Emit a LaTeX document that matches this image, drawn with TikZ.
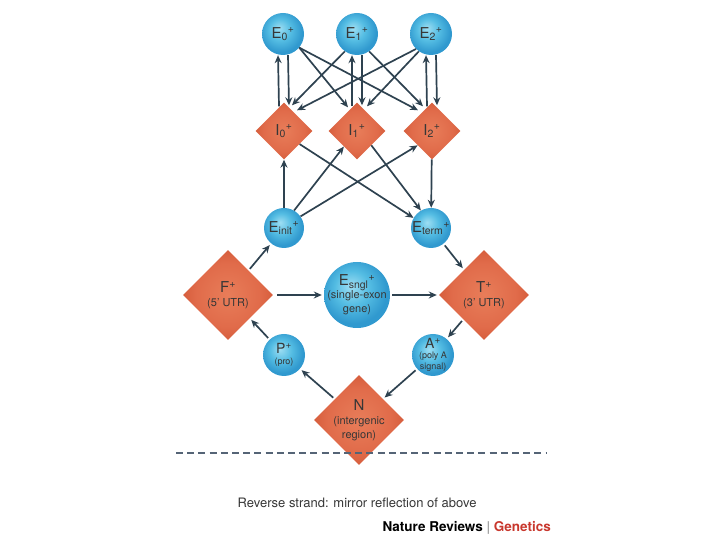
\documentclass[tikz,border=0pt]{standalone}
\usepackage{fontspec}
\setmainfont{TeX Gyre Heros}
\usetikzlibrary{shapes.geometric,arrows.meta}
\definecolor{edgegrey}{RGB}{46,66,80}
\definecolor{labelgrey}{RGB}{55,55,55}
\definecolor{natred}{RGB}{200,55,45}
\definecolor{dashgrey}{RGB}{85,100,118}
\pgfdeclareradialshading{bead}{\pgfpoint{-5bp}{7bp}}{rgb(0bp)=(0.62,0.87,0.95);rgb(13bp)=(0.33,0.74,0.89);rgb(25bp)=(0.19,0.60,0.81);rgb(50bp)=(0.19,0.60,0.81)}
\pgfdeclareradialshading{tile}{\pgfpoint{0bp}{0bp}}{rgb(0bp)=(0.91,0.49,0.35);rgb(18bp)=(0.88,0.42,0.29);rgb(25bp)=(0.84,0.37,0.24);rgb(50bp)=(0.84,0.37,0.24)}
\tikzset{
  exon/.style={circle,shading=bead,minimum size=42pt,inner sep=-3pt,text=labelgrey,align=center,font=\fontsize{15}{15}\selectfont},
  intron/.style={diamond,aspect=1,shading=tile,minimum size=57pt,inner sep=-4pt,text=labelgrey,align=center,font=\fontsize{15}{15}\selectfont},
  region/.style={intron,minimum size=90pt},
  arr/.style={-{Stealth[length=8pt,width=7pt]},line width=1.7pt,edgegrey},
  link/.style={arr,shorten >=2pt,shorten <=2pt}
}
\newcommand{\paren}[1]{{\fontsize{11}{12}\selectfont #1}}
\newcommand{\minor}[1]{{\fontsize{9}{9.5}\selectfont #1}}
\begin{document}
\begin{tikzpicture}[x=1pt,y=1pt]
  \useasboundingbox (0,0) rectangle (720,540);
  \node (E0) at (283,506) [exon] {E\textsubscript{0}\textsuperscript{+}};
  \node (E1) at (357,506) [exon] {E\textsubscript{1}\textsuperscript{+}};
  \node (E2) at (431,506) [exon] {E\textsubscript{2}\textsuperscript{+}};
  \node (I0) at (284,409) [intron] {I\textsubscript{0}\textsuperscript{+}};
  \node (I1) at (357,409) [intron] {I\textsubscript{1}\textsuperscript{+}};
  \node (I2) at (432,409) [intron] {I\textsubscript{2}\textsuperscript{+}};
  \node (Einit) at (284,312) [exon,minimum size=40pt] {E\textsubscript{init}\textsuperscript{+}};
  \node (Eterm) at (431,312) [exon,minimum size=40pt] {E\textsubscript{term}\textsuperscript{+}};
  \node (F) at (228,245) [region] {F\textsuperscript{+}\\[-1pt]\paren{(5’ UTR)}};
  \node (Esngl) at (357,245) [exon,minimum size=66pt,inner sep=-10pt] {E\textsubscript{sngl}\textsuperscript{+}\\[-2pt]\paren{(single-exon}\\[-1pt]\paren{gene)}};
  \node (T) at (484,245) [region] {T\textsuperscript{+}\\[-1pt]\paren{(3’ UTR)}};
  \node (P) at (284,185) [exon,font=\fontsize{14}{14}\selectfont] {P\textsuperscript{+}\\[-3pt]\minor{(pro)}};
  \node (A) at (433,185) [exon,inner sep=-6pt,font=\fontsize{14}{14}\selectfont] {A\textsuperscript{+}\\[-4pt]\minor{(poly A}\\[-3pt]\minor{signal)}};
  \node (N) at (359,120) [region,inner sep=-8pt] {N\\[-1pt]\paren{(intergenic}\\[-1pt]\paren{region)}};
  \draw[arr] ([xshift=-5pt,yshift=-4pt]I0.north) -- ([xshift=-5pt]E0.south);
  \draw[arr] ([xshift=5pt]E0.south) -- ([xshift=5pt,yshift=-3pt]I0.north);
  \draw[arr] ([xshift=-5pt,yshift=-4pt]I1.north) -- ([xshift=-5pt]E1.south);
  \draw[arr] ([xshift=5pt]E1.south) -- ([xshift=5pt,yshift=-3pt]I1.north);
  \draw[arr] ([xshift=-5pt,yshift=-4pt]I2.north) -- ([xshift=-5pt]E2.south);
  \draw[arr] ([xshift=5pt]E2.south) -- ([xshift=5pt,yshift=-3pt]I2.north);
  \draw[arr] (E0.-40) -- ([xshift=-9pt,yshift=-5pt]I1.north);
  \draw[arr] (E0.-40) -- ([xshift=-14pt,yshift=-8pt]I2.north);
  \draw[arr] (E1.-125) -- ([xshift=8pt,yshift=-3pt]I0.north);
  \draw[arr] (E1.-55) -- ([xshift=-9pt,yshift=-4pt]I2.north);
  \draw[arr] (E2.-135) -- ([xshift=13pt,yshift=-8pt]I0.north);
  \draw[arr] (E2.-125) -- ([xshift=10pt,yshift=-4pt]I1.north);
  \draw[arr] (Einit) -- (I0);
  \draw[arr] (Einit.60) -- (I1.-130);
  \draw[arr] (Einit.35) -- (I2.-135);
  \draw[arr] (I0.-40) -- (Eterm.150);
  \draw[arr] (I1.-45) -- (Eterm.120);
  \draw[arr] (I2) -- (Eterm);
  \draw[link] (F) -- (Einit);
  \draw[link,shorten <=4pt] (F) -- (Esngl);
  \draw[link] (Esngl) -- (T);
  \draw[link] (Eterm) -- (T);
  \draw[link] (T) -- (A);
  \draw[link] (A) -- (N);
  \draw[link] (N) -- (P);
  \draw[link] (P) -- (F);
  \draw[dashgrey,line width=1.6pt,dash pattern=on 7pt off 4.2pt] (176,87) -- (547,87);
  \node (rev) at (357,37) [text=labelgrey,font=\fontsize{13}{15}\selectfont] {Reverse strand: mirror reflection of above};
  \node (credit) at (551,12) [anchor=east,inner sep=0pt,font=\fontsize{13.5}{15}\selectfont] {\textbf{Nature Reviews} \textcolor{gray}{|} \textcolor{natred}{\textbf{Genetics}}};
\end{tikzpicture}
\end{document}
